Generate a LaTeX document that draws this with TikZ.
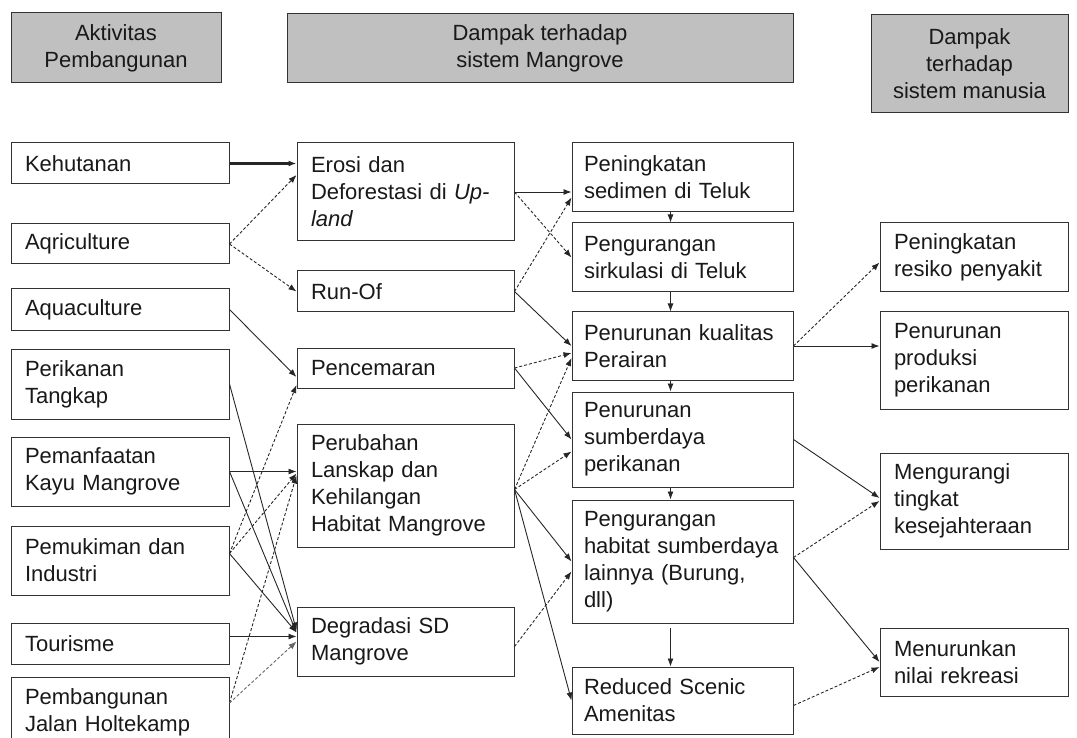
\documentclass[tikz,border=0pt]{standalone}
\usepackage{fontspec}
\setmainfont{Liberation Sans}
\usepackage{xcolor}
\usepackage{tikz}
\usetikzlibrary{arrows.meta}
\hyphenpenalty=10000
\exhyphenpenalty=10000
\tikzset{every picture/.append style={font=\fontsize{22}{27}\selectfont}}
\definecolor{headgray}{HTML}{C0C0C0}
\definecolor{edgegray}{HTML}{333333}
\tikzset{
  box/.style={draw=edgegray,line width=1pt,fill=white,inner xsep=14pt,inner ysep=0pt,align=left,text=black!90},
  col1/.style={box,text width=190pt},
  col2/.style={box,text width=189pt},
  col3/.style={box,inner xsep=12pt,text width=197pt},
  col4/.style={box,text width=160pt},
  head/.style={draw=edgegray,line width=1pt,fill=headgray,align=center,inner sep=0pt,text=black!90},
  link/.style={-{Latex[length=8pt,width=6pt]},line width=0.9pt,draw=black!85},
  dlink/.style={link,densely dashed},
}
\begin{document}
\begin{tikzpicture}[x=1pt,y=-1pt]
    \useasboundingbox (0,0) rectangle (1077,738);
    % headers
    \node[head,minimum width=210pt,minimum height=70pt] (hakt) at (116,48) {Aktivitas\\Pembangunan};
    \node[head,minimum width=506pt,minimum height=69pt] (hmang) at (540,48.5) {Dampak terhadap\\sistem Mangrove};
    \node[head,minimum width=197pt,minimum height=98pt] (hman) at (969.5,64) {Dampak\\terhadap\\sistem manusia};
    % aktivitas
    \node[col1,minimum height=41pt] (keh) at (120,163.5) {Kehutanan};
    \node[col1,minimum height=40pt] (agri) at (120,244) {Aqriculture};
    \node[col1,minimum height=41pt] (aqua) at (120,309.5) {Aquaculture};
    \node[col1,minimum height=70pt] (pkt) at (120,384) {Perikanan\\Tangkap};
    \node[col1,minimum height=69pt] (kayu) at (120,471.5) {Pemanfaatan\\Kayu~Mangrove};
    \node[col1,minimum height=69pt] (muk) at (120,560.5) {Pemukiman~dan\\Industri};
    \node[col1,minimum height=41pt] (tour) at (120,643.5) {Tourisme};
    \node[col1,minimum height=70pt] (jalan) at (120,712) {Pembangunan\\Jalan~Holtekamp};
    % dampak mangrove
    \node[col2,minimum height=98pt] (eros) at (405.5,192) {Erosi~dan\\Deforestasi~di~\textit{Up-}\\\textit{land}};
    \node[col2,minimum height=41pt] (run) at (405.5,291.5) {Run-Of};
    \node[col2,minimum height=40pt] (pen) at (405.5,368) {Pencemaran};
    \node[col2,minimum height=123pt] (rub) at (405.5,485.5) {Perubahan\\Lanskap~dan\\Kehilangan\\Habitat~Mangrove};
    \node[col2,minimum height=69pt] (deg) at (405.5,641.5) {Degradasi~SD\\Mangrove};
    % dampak lanjutan
    \node[col3,minimum height=69pt] (sed) at (682.5,177.5) {Peningkatan\\sedimen~di~Teluk};
    \node[col3,minimum height=69pt] (sir) at (682.5,257.5) {Pengurangan\\sirkulasi~di~Teluk};
    \node[col3,minimum height=68pt] (kual) at (682.5,346) {Penurunan~kualitas\\Perairan};
    \node[col3,minimum height=95pt] (sdp) at (682.5,439.5) {Penurunan\\sumberdaya\\perikanan};
    \node[col3,minimum height=123pt] (hab) at (682.5,561.5) {Pengurangan\\habitat~sumberdaya\\lainnya~(Burung,\\dll)};
    \node[col3,minimum height=67pt] (scen) at (682.5,700.5) {Reduced~Scenic\\Amenitas};
    % dampak manusia
    \node[col4,minimum height=69pt] (pnyk) at (974,257.5) {Peningkatan\\resiko~penyakit};
    \node[col4,minimum height=97pt] (prod) at (974,360.5) {Penurunan\\produksi\\perikanan};
    \node[col4,minimum height=96pt] (sejah) at (974,501) {Mengurangi\\tingkat\\kesejahteraan};
    \node[col4,minimum height=68pt] (rekr) at (974,662) {Menurunkan\\nilai~rekreasi};
    % aktivitas -> mangrove
    \draw[link,line width=2.6pt] (keh.east) -- (keh.east -| eros.west);
    \draw[dlink] (agri.east) -- ([yshift=17pt]eros.west);
    \draw[dlink] (agri.east) -- (run.west);
    \draw[link] (aqua.east) -- ([yshift=-9pt]pen.west);
    \draw[link] (pkt.east) -- ([yshift=11pt]deg.west);
    \draw[link] (kayu.east) -- (kayu.east -| rub.west);
    \draw[link] (kayu.east) -- ([yshift=9pt]deg.west);
    \draw[dlink] ([yshift=7pt]muk.east) -- ([yshift=-17pt]pen.west);
    \draw[dlink] ([yshift=7pt]muk.east) -- ([yshift=12pt]rub.west);
    \draw[link] ([yshift=7pt]muk.east) -- ([yshift=9pt]deg.west);
    \draw[link] ([yshift=7pt]tour.east) -- ([yshift=7pt]tour.east -| deg.west);
    \draw[dlink] ([yshift=9pt]jalan.east) -- ([yshift=10pt]rub.west);
    \draw[dlink,draw=black!60] ([yshift=9pt]jalan.east) -- (deg.west);
    % mangrove -> lanjutan
    \draw[link] (eros.east) -- (eros.east -| sed.west);
    \draw[dlink] (eros.east) -- (sir.west);
    \draw[dlink] (run.east) -- ([yshift=-20pt]sed.west);
    \draw[link] (run.east) -- (kual.west);
    \draw[dlink] (pen.east) -- ([yshift=-7pt]kual.west);
    \draw[link] (pen.east) -- (sdp.west);
    \draw[dlink] ([yshift=-4pt]rub.east) -- ([yshift=-12pt]kual.west);
    \draw[dlink] ([yshift=-4pt]rub.east) -- ([yshift=-12pt]sdp.west);
    \draw[link] ([yshift=-4pt]rub.east) -- (hab.west);
    \draw[link] ([yshift=-4pt]rub.east) -- (scen.west);
    \draw[dlink] ([yshift=-5pt]deg.east) -- ([yshift=-10pt]hab.west);
    \foreach \a/\b in {sed/sir,sir/kual,kual/sdp,sdp/hab} {\draw[link] ([xshift=-12pt]\a.south) -- ([xshift=-12pt]\b.north);}
    \draw[link] ([xshift=-12pt,yshift=-4pt]hab.south) -- ([xshift=-12pt]scen.north);
    % lanjutan -> manusia
    \draw[dlink] (kual.east) -- ([yshift=-5pt]pnyk.west);
    \draw[link] (kual.east) -- (kual.east -| prod.west);
    \draw[link] (sdp.east) -- ([yshift=3pt]sejah.west);
    \draw[dlink] ([yshift=4pt]hab.east) -- (sejah.west);
    \draw[link] ([yshift=4pt]hab.east) -- (rekr.west);
    \draw[dlink] ([yshift=-5pt]scen.east) -- ([yshift=-5pt]rekr.west);
  \end{tikzpicture}
\end{document}
